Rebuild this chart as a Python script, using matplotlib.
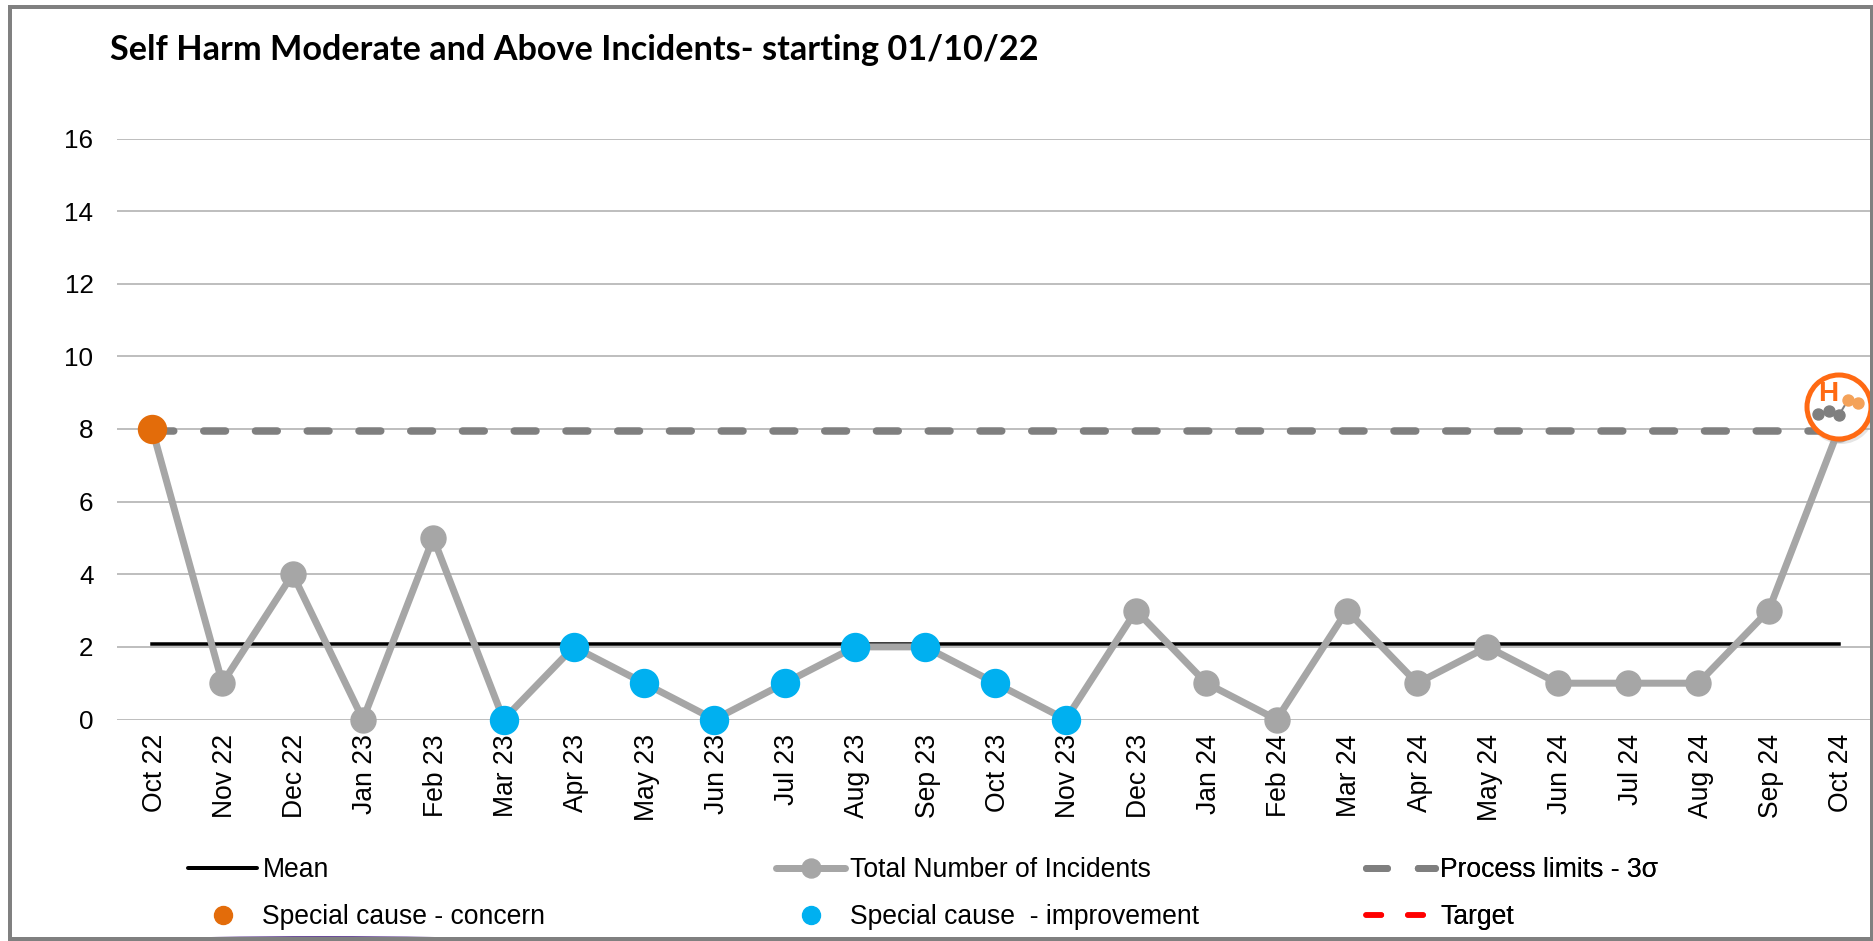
import numpy as np
import matplotlib
matplotlib.use("Agg")
import matplotlib.pyplot as plt
from matplotlib.lines import Line2D
from matplotlib.patches import Circle, Rectangle, Ellipse
from matplotlib.transforms import ScaledTranslation

plt.rcParams['font.family'] = ['Liberation Sans', 'DejaVu Sans']

# data
months = ['Oct 22', 'Nov 22', 'Dec 22', 'Jan 23', 'Feb 23', 'Mar 23', 'Apr 23', 'May 23', 'Jun 23',
          'Jul 23', 'Aug 23', 'Sep 23', 'Oct 23', 'Nov 23', 'Dec 23', 'Jan 24', 'Feb 24', 'Mar 24',
          'Apr 24', 'May 24', 'Jun 24', 'Jul 24', 'Aug 24', 'Sep 24', 'Oct 24']
incidents = [8, 1, 4, 0, 5, 0, 2, 1, 0, 1, 2, 2, 1, 0, 3, 1, 0, 3, 1, 2, 1, 1, 1, 3, 8]
mean_value = [2.07] * 25
process_limit = [7.95] * 25
concern_idx = [0]
improvement_idx = [5, 6, 7, 8, 9, 10, 11, 12, 13]
yticks = [0, 2, 4, 6, 8, 10, 12, 14, 16]

W, H = 1874, 941
GREY = '#A6A6A6'
ORANGE = '#E36C0A'
BLUE = '#00B0F0'
px = 0.72  # pixels to points at dpi 100

fig = plt.figure(figsize=(W / 100, H / 100), dpi=100, facecolor='white')
ax = fig.add_axes([117 / W, (H - 719.5) / H, 1757 / W, 581 / H])
x = np.arange(len(months))

ax.plot(x, process_limit, color='#7F7F7F', lw=7.5 * px, dashes=(2.9, 4.0), dash_capstyle='round', zorder=3)
ax.plot(x, mean_value, color='black', lw=3.5 * px, zorder=3)
ax.plot(x, incidents, color=GREY, lw=7 * px, marker='o', ms=25 * px, zorder=4, clip_on=False)
ax.plot(x[concern_idx], np.array(incidents)[concern_idx], 'o', color=ORANGE, ms=28 * px, zorder=5, clip_on=False)
ax.plot(x[improvement_idx], np.array(incidents)[improvement_idx], 'o', color=BLUE, ms=28 * px, zorder=5, clip_on=False)

ax.set_xlim(-0.5, 24.5)
ax.set_ylim(0, 16)
ax.set_yticks(yticks)
ax.set_xticks(x)
ax.set_xticklabels(months, rotation=90)
ax.tick_params(axis='y', length=0, pad=17, labelsize=18.7)
ax.tick_params(axis='x', length=0, pad=10.5, labelsize=19.1)
# rotated labels sit a little left of the points otherwise
shift = ScaledTranslation(2.5 / 100, 0, fig.dpi_scale_trans)
for lab in ax.get_xticklabels():
    lab.set_transform(lab.get_transform() + shift)
ax.grid(axis='y', color='#BFBFBF', lw=2 * px, zorder=1)
ax.set_axisbelow(True)
for s in ax.spines.values():
    s.set_visible(False)

# overlay in pixel coordinates for frame, title, badge, legends
ov = fig.add_axes([0, 0, 1, 1], facecolor='none')
ov.set_xlim(0, W)
ov.set_ylim(H, 0)
ov.axis('off')

ov.text(110, 49.5, 'Self Harm Moderate and Above Incidents- starting 01/10/22', family='Lato',
        weight='bold', fontsize=24.7, va='center', ha='left', color='black')

# legend, one block per column
col1 = [Line2D([], [], color='black', lw=4 * px, solid_capstyle='round'),
        Line2D([], [], ls='none', marker='o', color=ORANGE, ms=18 * px)]
col2 = [Line2D([], [], color=GREY, lw=7 * px, marker='o', ms=19 * px, solid_capstyle='round'),
        Line2D([], [], ls='none', marker='o', color=BLUE, ms=18 * px)]
col3 = [Line2D([], [], color='#7F7F7F', lw=7 * px, dashes=(3, 4.4), dash_capstyle='round'),
        Line2D([], [], color='#FF0000', lw=5.5 * px, dashes=(2.8, 4.8), dash_capstyle='round')]
labels = [['Mean', 'Special cause - concern'],
          ['Total Number of Incidents', 'Special cause  - improvement'],
          ['Process limits - 3σ', 'Target']]
for handles, labs, lx in zip([col1, col2, col3], labels, [188.5, 776.5, 1366]):
    leg = ov.legend(handles, labs, loc='upper left', bbox_to_anchor=(lx, 857), bbox_transform=ov.transData,
                    frameon=False, fontsize=19.1, handlelength=2.6, handletextpad=0.185,
                    labelspacing=0.8, borderpad=0, borderaxespad=0, numpoints=1)
    ov.add_artist(leg)

# badge over the last point
ov.add_patch(Circle((1841, 410), 34, fc='#999999', ec='none', alpha=0.25, zorder=6))
ov.add_patch(Circle((1839, 407), 32, fc='white', ec='#FF6A13', lw=5 * px, zorder=7))
ov.plot([1818, 1829, 1839, 1848], [414, 411, 415, 400], color='#7F7F7F', lw=2 * px, zorder=8)
ov.plot([1818, 1829, 1839], [414, 411, 415], 'o', color='#7F7F7F', ms=11 * px, zorder=9)
ov.plot([1848, 1858], [400, 403], 'o', color='#F4A259', ms=11 * px, zorder=9)
ov.text(1828, 394, 'H', color='#FF6A13', fontsize=20, weight='bold', ha='center', va='center', zorder=9)

# outer frame
ov.add_patch(Ellipse((323, 939), 300, 6, fc='#6B4C9A', ec='none', zorder=9))
ov.add_patch(Rectangle((10, 6.5), 1862.5, 932, fc='none', ec='#808080', lw=4 * px, zorder=10))

fig.savefig('out.png', dpi=100)
